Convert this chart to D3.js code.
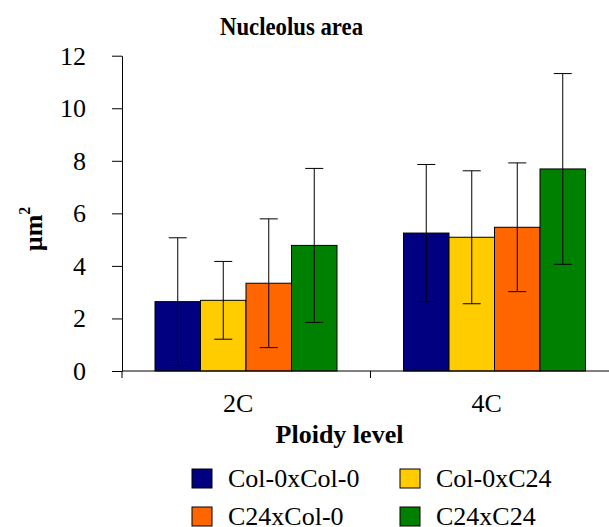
<!DOCTYPE html>
<html>
<head>
<meta charset="utf-8">
<script src="https://cdn.jsdelivr.net/npm/d3@7"></script>
<style>
  body { margin: 0; background: #fff; }
  svg { font-family: "Liberation Serif", "Times New Roman", serif; }
</style>
</head>
<body>
<svg></svg>
<script>
const width = 609;
const height = 527;

const categories = ['2C', '4C'];
const series = ['Col-0xCol-0', 'Col-0xC24', 'C24xCol-0', 'C24xC24'];
const colors = ['#000080', '#FFCC00', '#FF6600', '#008000'];
const means2C = [2.64, 2.69, 3.34, 4.78];
const sd2C = [2.43, 1.48, 2.45, 2.93];
const means4C = [5.25, 5.09, 5.47, 7.69];
const sd4C = [2.61, 2.53, 2.45, 3.63];
const yTicks = [0, 2, 4, 6, 8, 10, 12];

const rows = [];
categories.forEach((c, ci) => {
  const m = ci === 0 ? means2C : means4C;
  const s = ci === 0 ? sd2C : sd4C;
  series.forEach((name, si) => rows.push({ cat: c, name, color: colors[si], mean: m[si], sd: s[si] }));
});

const svg = d3.select('svg')
    .attr('width', width)
    .attr('height', height);

const xScale = d3.scaleBand()
    .domain(categories)
    .range([122, 619])
    .padding(0);
const xInner = d3.scaleBand()
    .domain(series)
    .range([33, 215])
    .padding(0);
const yScale = d3.scaleLinear()
    .domain([0, 12])
    .range([371, 55.7]);

// y axis
const yAxis = d3.axisLeft(yScale)
    .tickValues(yTicks)
    .tickSize(10)
    .tickSizeOuter(0)
    .tickPadding(26);
const gy = svg.append('g')
    .attr('transform', 'translate(122, 0)')
    .call(yAxis);
gy.select('.domain').attr('stroke', '#000');
gy.selectAll('.tick line').attr('stroke', '#000');
gy.selectAll('.tick text')
    .attr('font-size', 26)
    .attr('font-family', '"Liberation Serif", "Times New Roman", serif')
    .attr('fill', '#000');

// bars
svg.selectAll('rect.bar')
  .data(rows)
  .enter()
  .append('rect')
    .attr('class', 'bar')
    .attr('x', d => xScale(d.cat) + xInner(d.name))
    .attr('y', d => yScale(d.mean))
    .attr('width', xInner.bandwidth())
    .attr('height', d => yScale(0) - yScale(d.mean))
    .attr('fill', d => d.color)
    .attr('stroke', '#000')
    .attr('stroke-width', 1);

// error bars
const err = svg.selectAll('g.err')
  .data(rows)
  .enter()
  .append('g')
    .attr('class', 'err')
    .attr('stroke', '#000')
    .attr('stroke-width', 1);
const cx = d => xScale(d.cat) + xInner(d.name) + xInner.bandwidth() / 2;
err.append('line')
    .attr('x1', cx).attr('x2', cx)
    .attr('y1', d => yScale(d.mean + d.sd))
    .attr('y2', d => yScale(d.mean - d.sd));
err.append('line')
    .attr('x1', d => cx(d) - 9).attr('x2', d => cx(d) + 9)
    .attr('y1', d => yScale(d.mean + d.sd))
    .attr('y2', d => yScale(d.mean + d.sd));
err.append('line')
    .attr('x1', d => cx(d) - 9).attr('x2', d => cx(d) + 9)
    .attr('y1', d => yScale(d.mean - d.sd))
    .attr('y2', d => yScale(d.mean - d.sd));

// x axis
svg.append('line')
    .attr('x1', 122).attr('x2', 619)
    .attr('y1', yScale(0)).attr('y2', yScale(0))
    .attr('stroke', '#000');
const boundaries = categories.map(c => xScale(c)).concat([xScale.range()[1]]);
svg.selectAll('line.xtick')
  .data(boundaries)
  .enter()
  .append('line')
    .attr('class', 'xtick')
    .attr('x1', d => d).attr('x2', d => d)
    .attr('y1', yScale(0)).attr('y2', yScale(0) + 7)
    .attr('stroke', '#000');
svg.selectAll('text.xlab')
  .data(categories)
  .enter()
  .append('text')
    .attr('class', 'xlab')
    .attr('x', d => xScale(d) + xScale.bandwidth() / 2 - 8)
    .attr('y', 412)
    .attr('text-anchor', 'middle')
    .attr('font-size', 26)
    .text(d => d);

// titles
svg.append('text')
    .attr('x', 220)
    .attr('y', 35)
    .attr('font-size', 26)
    .attr('font-weight', 'bold')
    .attr('textLength', 143)
    .attr('lengthAdjust', 'spacingAndGlyphs')
    .text('Nucleolus area');

svg.append('text')
    .attr('x', 339.5)
    .attr('y', 443)
    .attr('text-anchor', 'middle')
    .attr('font-size', 26)
    .attr('font-weight', 'bold')
    .text('Ploidy level');

const yl = svg.append('text')
    .attr('transform', 'translate(42, 229) rotate(-90)')
    .attr('text-anchor', 'middle')
    .attr('font-size', 26)
    .attr('font-weight', 'bold');
yl.append('tspan').text('µm');
yl.append('tspan')
    .attr('font-size', 16)
    .attr('dy', -12)
    .text('2');

// legend
const legend = svg.selectAll('g.legend')
  .data(series)
  .enter()
  .append('g')
    .attr('class', 'legend')
    .attr('transform', (d, i) => `translate(${i % 2 === 0 ? 192 : 400}, ${i < 2 ? 469 : 507})`);
legend.append('rect')
    .attr('width', 20)
    .attr('height', 19)
    .attr('fill', (d, i) => colors[i])
    .attr('stroke', '#000')
    .attr('stroke-width', 1);
legend.append('text')
    .attr('x', 36)
    .attr('y', 17.5)
    .attr('font-size', 26)
    .text(d => d);
</script>
</body>
</html>
